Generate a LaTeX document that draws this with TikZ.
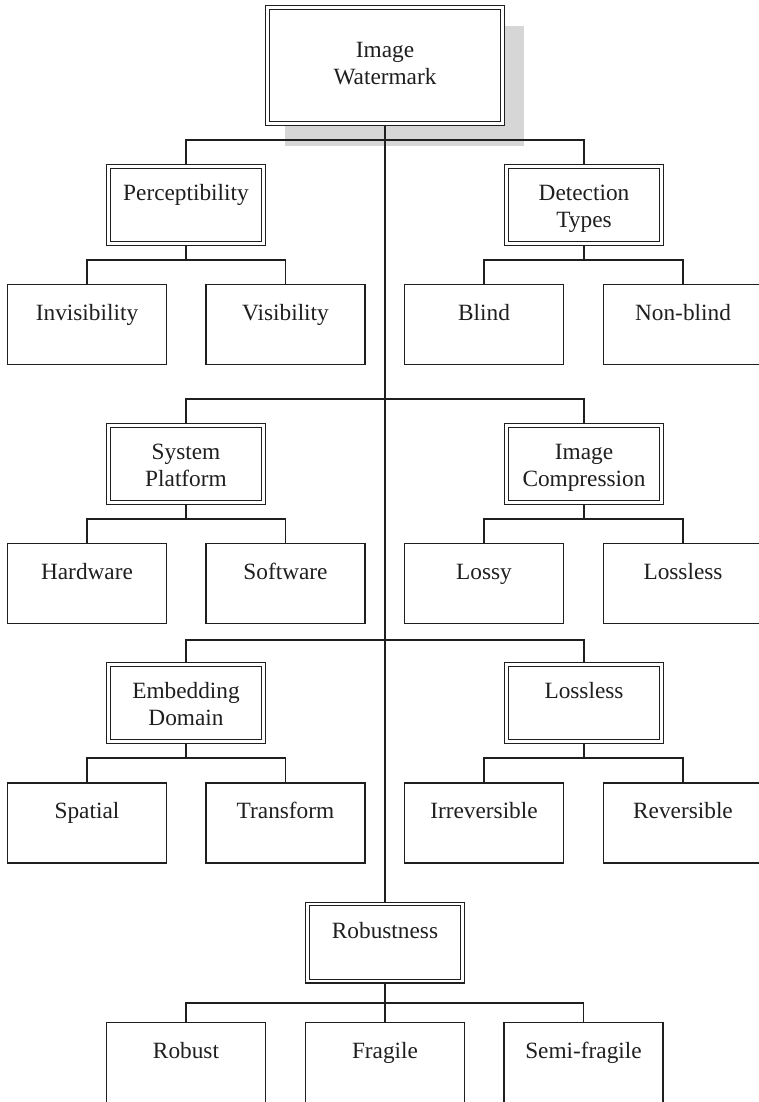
\documentclass[tikz,border=0pt]{standalone}
\usepackage{fontspec}
\setmainfont{Liberation Serif}
\pgfdeclarelayer{bg}
\pgfsetlayers{bg,main}
\newcommand\mytop{\rule{0pt}{26.5pt}}
\begin{document}
\begin{tikzpicture}[x=1pt,y=-1pt,
  leaf/.style={draw=black!88, line width=1.1pt, fill=white, minimum width=159pt,
    minimum height=80pt, inner sep=0pt, align=center, text=black!88,
    font=\fontsize{23.3}{27}\selectfont},
  cat/.style={leaf, double=white, double distance=2.6pt, minimum width=155.2pt,
    minimum height=77.2pt},
  conn/.style={draw=black!88, line width=1.1pt}]
\useasboundingbox (0,0) rectangle (759,1102);

% root
\node[cat, minimum width=235.2pt, minimum height=116.2pt] (root) at (385,65.5) {\strut Image\\\strut Watermark};

% row 1
\node[cat] (perc) at (186,205) {\mytop Perceptibility\\\strut};
\node[cat] (detc) at (584,205) {\mytop Detection\\\strut Types};
\node[leaf] (inv)   at (87,324.5)  {\mytop Invisibility\\\strut};
\node[leaf] (vis)   at (285.5,324.5) {\mytop Visibility\\\strut};
\node[leaf] (blind) at (484,324.5) {\mytop Blind\\\strut};
\node[leaf] (nonb)  at (683,324.5) {\mytop Non-blind\\\strut};

% row 2
\node[cat] (sys)  at (186,464) {\mytop System\\\strut Platform};
\node[cat] (comp) at (584,464) {\mytop Image\\\strut Compression};
\node[leaf] (hard)  at (87,583.5)  {\mytop Hardware\\\strut};
\node[leaf] (soft)  at (285.5,583.5) {\mytop Software\\\strut};
\node[leaf] (lossy) at (484,583.5) {\mytop Lossy\\\strut};
\node[leaf] (lossl) at (683,583.5) {\mytop Lossless\\\strut};

% row 3
\node[cat] (emb)  at (186,703) {\mytop Embedding\\\strut Domain};
\node[cat] (losc) at (584,703) {\mytop Lossless\\\strut};
\node[leaf] (spat)  at (87,823)  {\mytop Spatial\\\strut};
\node[leaf] (trans) at (285.5,823) {\mytop Transform\\\strut};
\node[leaf] (irr)   at (484,823) {\mytop Irreversible\\\strut};
\node[leaf] (rev)   at (683,823) {\mytop Reversible\\\strut};

% row 4
\node[cat] (rob) at (385,942.5) {\mytop Robustness\\\strut};
\node[leaf] (robust) at (186,1062.5) {\mytop Robust\\\strut};
\node[leaf] (frag)   at (385,1062.5) {\mytop Fragile\\\strut};
\node[leaf] (semi)   at (583.5,1062.5) {\mytop Semi-fragile\\\strut};

% junctions
\coordinate (b1) at (385,140);
\coordinate (b2) at (385,399);
\coordinate (b3) at (385,640);
\coordinate (jp) at (186,260);
\coordinate (jd) at (584,260);
\coordinate (js) at (186,519);
\coordinate (jc) at (584,519);
\coordinate (je) at (186,758);
\coordinate (jl) at (584,758);
\coordinate (jr) at (385,1003);

\begin{pgfonlayer}{bg}
  \fill[black!16] (285,26) rectangle (524,146);
  \draw[conn] (root.south) -- (rob.north);
  \draw[conn] (perc.north) |- (b1) -| (detc.north);
  \draw[conn] (sys.north) |- (b2) -| (comp.north);
  \draw[conn] (emb.north) |- (b3) -| (losc.north);
  \draw[conn] (perc.south) -- (jp);
  \draw[conn] (inv.north) |- (jp) -| (vis.north);
  \draw[conn] (detc.south) -- (jd);
  \draw[conn] (blind.north) |- (jd) -| (nonb.north);
  \draw[conn] (sys.south) -- (js);
  \draw[conn] (hard.north) |- (js) -| (soft.north);
  \draw[conn] (comp.south) -- (jc);
  \draw[conn] (lossy.north) |- (jc) -| (lossl.north);
  \draw[conn] (emb.south) -- (je);
  \draw[conn] (spat.north) |- (je) -| (trans.north);
  \draw[conn] (losc.south) -- (jl);
  \draw[conn] (irr.north) |- (jl) -| (rev.north);
  \draw[conn] (rob.south) -- (jr);
  \draw[conn] (robust.north) |- (jr) -| (semi.north);
  \draw[conn] (jr) -- (frag.north);
\end{pgfonlayer}
\end{tikzpicture}
\end{document}
